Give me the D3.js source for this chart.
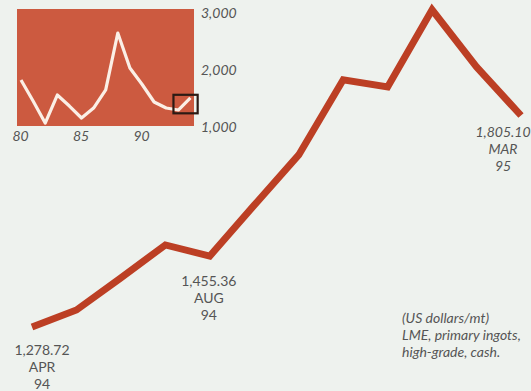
<!DOCTYPE html>
<html>
<head>
<meta charset="utf-8">
<script src="https://cdn.jsdelivr.net/npm/d3@7/dist/d3.min.js"></script>
<style>
  html, body { margin: 0; padding: 0; background: #eef2ee; }
  svg { display: block; }
  text { font-family: "Lato", "Open Sans", sans-serif; fill: #555; }
</style>
</head>
<body>
<svg id="chart" width="531" height="391"></svg>
<script>
// Monthly aluminium price, LME primary ingots, high-grade cash (US$/mt)
const months = ["APR 94", "MAY 94", "JUN 94", "JUL 94", "AUG 94", "SEP 94",
                "OCT 94", "NOV 94", "DEC 94", "JAN 95", "FEB 95", "MAR 95"];
const prices = [1278.72, 1321, 1401, 1483, 1455.36, 1582,
                1707, 1894, 1876, 2068, 1926, 1805.10];

// Labelled months: value, month, year
const callouts = [
  { month: "APR 94", lines: ["1,278.72", "APR", "94"], italic: false },
  { month: "AUG 94", lines: ["1,455.36", "AUG", "94"], italic: false },
  { month: "MAR 95", lines: ["1,805.10", "MAR", "95"], italic: true }
];

// Annual history for the inset
const insetYears = [1980, 1981, 1982, 1983, 1984, 1985, 1986, 1987,
                    1988, 1989, 1990, 1991, 1992, 1993, 1994];
const insetValues = [1825, 1456, 1070, 1561, 1368, 1158, 1333, 1650,
                     2649, 2035, 1750, 1439, 1333, 1298, 1509];
const insetYTicks = [1000, 2000, 3000];
const insetXTicks = [1980, 1985, 1990];
// Window of the main chart inside the inset (years, price range)
const insetWindow = { from: 1992.6, to: 1994.6, low: 1240, high: 1565 };

const noteLines = ["(US dollars/mt)", "LME, primary ingots,", "high-grade, cash."];

const svg = d3.select("#chart");

// ---- main line ----
const x = d3.scalePoint().domain(months).range([32, 521]);
const y = d3.scaleLinear().domain([1000, 2100]).range([439, -3]);

const line = d3.line()
  .x((d, i) => x(months[i]))
  .y(d => y(d));

svg.append("path")
  .datum(prices)
  .attr("d", line)
  .attr("fill", "none")
  .attr("stroke", "#bc3f24")
  .attr("stroke-width", 7)
  .attr("stroke-linejoin", "miter");

// callout labels under selected points
const labelPos = {
  "APR 94": { dx: 10, dy: 23 },
  "AUG 94": { dx: -1, dy: 25 },
  "MAR 95": { dx: -18, dy: 17 }
};
callouts.forEach(c => {
  const i = months.indexOf(c.month);
  const p = labelPos[c.month];
  const cx = x(c.month) + p.dx;
  const cy = y(prices[i]) + p.dy;
  const t = svg.append("text")
    .attr("text-anchor", "middle")
    .style("font-size", "14px")
    .style("font-style", c.italic ? "italic" : "normal");
  c.lines.forEach((s, k) => {
    t.append("tspan")
      .attr("x", cx)
      .attr("y", cy + k * 16.8)
      .attr("dy", "0.35em")
      .text(s);
  });
});

// note
const note = svg.append("text")
  .attr("x", 402)
  .style("font-size", "14px")
  .style("font-style", "italic")
  .attr("fill", "#4a4a4a");
noteLines.forEach((s, k) => {
  note.append("tspan").attr("x", 402).attr("y", 318 + k * 17).attr("dy", "0.35em").text(s);
});

// ---- inset ----
const ix = d3.scaleLinear().domain([1980, 1990]).range([21, 142]);
const iy = d3.scaleLinear().domain([1000, 3000]).range([127, 13]);

svg.append("rect")
  .attr("x", 17).attr("y", 9)
  .attr("width", 177).attr("height", 117)
  .attr("fill", "#cc5a40");

svg.append("path")
  .datum(insetValues)
  .attr("d", d3.line().x((d, i) => ix(insetYears[i])).y(d => iy(d)))
  .attr("fill", "none")
  .attr("stroke", "#fbefe6")
  .attr("stroke-width", 3.2)
  .attr("stroke-linejoin", "round");

svg.append("rect")
  .attr("x", ix(insetWindow.from))
  .attr("y", iy(insetWindow.high))
  .attr("width", ix(insetWindow.to) - ix(insetWindow.from))
  .attr("height", iy(insetWindow.low) - iy(insetWindow.high))
  .attr("fill", "none")
  .attr("stroke", "#2b1a14")
  .attr("stroke-width", 2.2);

// inset axes (labels only)
const yAxis = d3.axisRight(iy).tickValues(insetYTicks).tickSize(0).tickPadding(0)
  .tickFormat(d3.format(","));
const gy = svg.append("g").attr("transform", "translate(201,0)").call(yAxis);
gy.select(".domain").remove();
gy.selectAll("text")
  .style("font-size", "14px").style("font-style", "italic")
  .attr("fill", "#555").style("font-family", "Lato, sans-serif");

const xAxis = d3.axisBottom(ix).tickValues(insetXTicks).tickSize(0).tickPadding(0)
  .tickFormat(d => String(d).slice(2));
const gx = svg.append("g").attr("transform", "translate(-1,131)").call(xAxis);
gx.select(".domain").remove();
gx.selectAll("text")
  .style("font-size", "14px").style("font-style", "italic")
  .attr("fill", "#555").style("font-family", "Lato, sans-serif");
</script>
</body>
</html>
